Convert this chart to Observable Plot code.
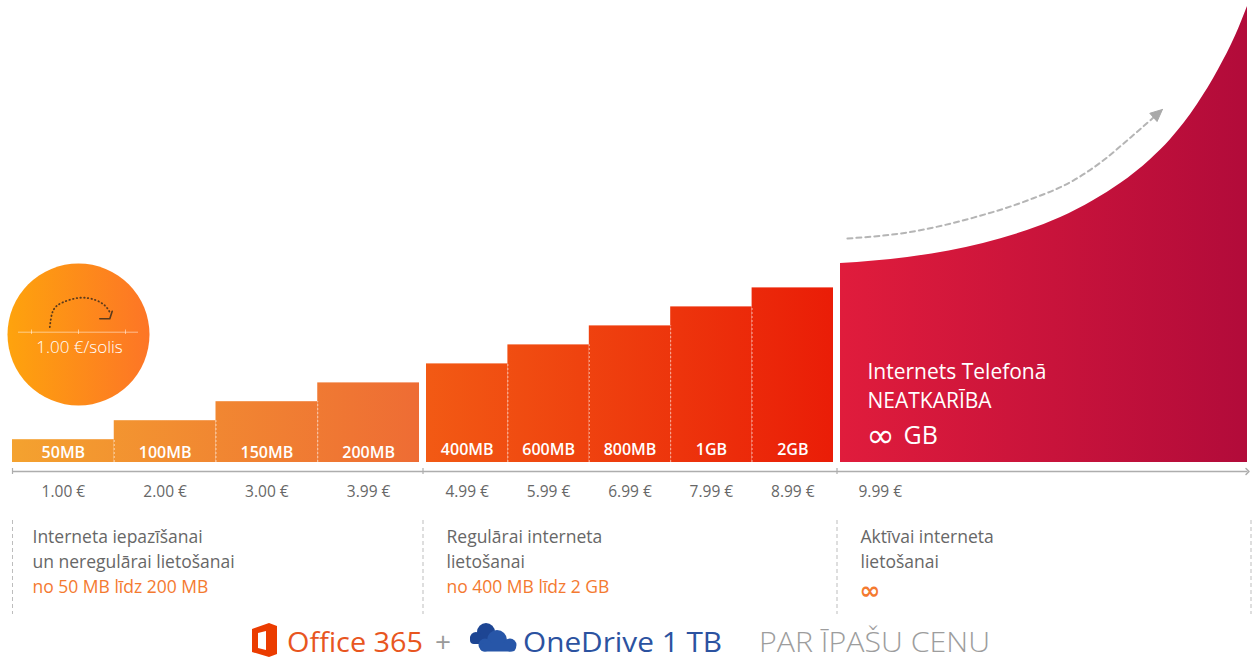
<!DOCTYPE html>
<html><head><meta charset="utf-8">
<script src="https://cdn.jsdelivr.net/npm/d3@7"></script>
<script src="https://cdn.jsdelivr.net/npm/@observablehq/plot@0.6"></script>
<style>
body{margin:0;background:#fff;width:1253px;height:659px;overflow:hidden;position:relative}
#chart{position:absolute;left:0;top:0}
#footer{position:absolute;left:0;top:618px;overflow:visible}
</style></head><body>
<div id="chart"></div>
<svg id="footer" width="1253" height="41" font-family="'Open Sans', sans-serif">
  <g transform="translate(252,5)">
    <path d="M0,6 L17,0 L25,3 L25,31 L17,34 L0,29 Z M6,10 L14,8 L14,27 L6,25 Z" fill="#eb3c00" fill-rule="evenodd"/>
  </g>
  <text x="287" y="34" font-size="28" fill="#e8561f" textLength="136" lengthAdjust="spacingAndGlyphs">Office 365</text>
  <text x="435" y="34" font-size="28" fill="#9a9a9a">+</text>
  <g transform="translate(464,2)">
    <g fill="#1d4593">
      <circle cx="22" cy="12" r="9"/><circle cx="12" cy="18" r="6"/><rect x="6" y="15" width="26" height="9" rx="4"/>
    </g>
    <g fill="#2756a8">
      <circle cx="33" cy="20" r="10"/><circle cx="21" cy="25" r="6.5"/><circle cx="46" cy="25" r="6.5"/><rect x="16" y="23" width="36" height="8.5" rx="4.2"/>
    </g>
  </g>
  <text x="523" y="34" font-size="28" fill="#2b52a0" textLength="199" lengthAdjust="spacingAndGlyphs">OneDrive 1 TB</text>
  <text x="759" y="34" font-size="28" font-weight="300" fill="#9d9d9d" textLength="231" lengthAdjust="spacingAndGlyphs">PAR ĪPAŠU CENU</text>
</svg>
<script>
// ---- data ----
const plans = ["50MB","100MB","150MB","200MB","400MB","600MB","800MB","1GB","2GB"];
const prices = [1.00, 2.00, 3.00, 3.99, 4.99, 5.99, 6.99, 7.99, 8.99];
const planGroup = [0, 0, 0, 0, 1, 1, 1, 1, 1];
const unlimitedPrice = 9.99;
const unlimitedTitle = ["Internets Telefonā", "NEATKARĪBA"];
const unlimitedAmount = "∞ GB";
// rising "unlimited" area (t = share of the panel width, v = height in price units)
const curveT = [0, 0.165, 0.351, 0.459, 0.541, 0.622, 0.688, 0.762, 0.811, 0.877, 0.929, 0.971, 1.0];
const curveV = [10.27, 10.59, 11.33, 12.01, 12.69, 13.59, 14.48, 15.75, 16.80, 18.64, 20.48, 22.27, 23.80];
// dashed trend arrow
const trendT = [0.017, 0.165, 0.327, 0.459, 0.572, 0.639, 0.713, 0.791];
const trendV = [11.59, 11.91, 12.69, 13.59, 14.64, 15.59, 16.91, 18.38];
const groupTitles = [
  ["Interneta iepazīšanai", "un neregulārai lietošanai"],
  ["Regulārai interneta", "lietošanai"],
  ["Aktīvai interneta", "lietošanai"]
];
const groupRanges = ["no 50 MB līdz 200 MB", "no 400 MB līdz 2 GB", "∞"];
const stepLabel = "1.00 €/solis";

// ---- layout ----
const floor = -0.2;          // baseline of the bars in price units
const pxUnit = 19;           // pixels per price unit
const pitch = 414;           // pixels per panel
const groupW = 407 / pitch;  // panel width as share of pitch
const gh = (1 - groupW) / 2;
const px = p => p / pxUnit;  // pixel offset -> price units
const pxX = p => p / pitch;  // pixel offset -> panel units

const bars = plans.map((name, i) => {
  const g = planGroup[i];
  const members = planGroup.map((gg, j) => gg === g ? j : -1).filter(j => j >= 0);
  const k = members.indexOf(i), n = members.length;
  return {name, price: prices[i], g,
    x1: g + k * groupW / n, x2: g + (k + 1) * groupW / n,
    prev: k > 0 ? prices[i - 1] : null};
});
const mid = d => (d.x1 + d.x2) / 2;
const curve = curveT.map((t, i) => ({x: 2 + t * groupW, v: curveV[i]}));
const trend = trendT.map((t, i) => ({x: 2 + t * groupW, v: trendV[i]}));

// arrowhead for the trend line (filled triangle, built in pixel space)
const head = (() => {
  const a = trend[trend.length - 2], b = trend[trend.length - 1];
  let dx = (b.x - a.x) * pitch, dy = (b.v - a.v) * pxUnit; // dy upward
  const len = Math.hypot(dx, dy); dx /= len; dy /= len;
  const L = 12, Wd = 5.5;
  const bx = -dx * L, by = -dy * L;
  const pts = [[0, 0], [bx - dy * Wd, by + dx * Wd], [bx + dy * Wd, by - dx * Wd], [0, 0]];
  return pts.map(([ox, oy]) => ({x: b.x + ox / pitch, v: b.v + oy / pxUnit}));
})();

// step badge geometry (relative to circle center)
const cX = pxX(66), cY = floor + px(462 - 334);
const arc = [[-28.7,7.3],[-25.3,24],[-15.3,32.3],[1.3,36.7],[16.3,34.7],[26.3,29],[31.3,22.3]]
  .map(([dx, dy]) => ({x: cX + pxX(dx), v: cY + px(dy)}));
const hook = [[21.3,15.7],[31.3,15.7],[33.7,23.3]].map(([dx, dy]) => ({x: cX + pxX(dx), v: cY + px(dy)}));

const font = "'Open Sans', sans-serif";
const gray = "#676767", orange = "#f47a30";
const [infSym, infUnit] = unlimitedAmount.split(" ");

const marks = [
  // badge
  Plot.dot([stepLabel], {x: cX, y: cY, r: 71, fill: "url(#circ)"}),
  Plot.ruleY([cY + px(2.3)], {x1: cX - pxX(60), x2: cX + pxX(60), stroke: "white", strokeOpacity: 0.5}),
  Plot.ruleX([cX - pxX(47), cX, cX + pxX(47)], {y1: cY + px(0), y2: cY + px(4.5), stroke: "white", strokeOpacity: 0.5}),
  Plot.line(arc, {x: "x", y: "v", curve: "natural", stroke: "#5a3a1c", strokeWidth: 1.8, strokeDasharray: "0.5,3.2", strokeLinecap: "round"}),
  Plot.line(hook, {x: "x", y: "v", stroke: "#5a3a1c", strokeWidth: 1.6}),
  Plot.text([stepLabel], {x: cX + pxX(1), y: cY - px(13.5), text: d => d, fill: "white", fontSize: 17, fontWeight: 300}),

  // bars
  Plot.rect(bars.filter(d => d.g === 0), {x1: "x1", x2: "x2", y1: floor, y2: "price", fill: "url(#gA)"}),
  Plot.rect(bars.filter(d => d.g === 1), {x1: "x1", x2: "x2", y1: floor, y2: "price", fill: "url(#gB)"}),
  Plot.areaY(curve, {x: "x", y1: floor, y2: "v", curve: "monotone-x", fill: "url(#gC)"}),
  Plot.ruleX(bars.filter(d => d.prev != null), {x: "x1", y1: floor, y2: "prev", stroke: "white", strokeOpacity: 0.55, strokeDasharray: "2,2"}),
  Plot.text(bars.filter(d => d.g === 0), {x: mid, y: floor, dy: -10, text: "name", fill: "white", fontSize: 16, fontWeight: 600}),
  Plot.text(bars.filter(d => d.g === 1), {x: mid, y: floor, dy: -13, text: "name", fill: "white", fontSize: 16, fontWeight: 600}),

  // trend arrow
  Plot.line(trend, {x: "x", y: "v", curve: "monotone-x", stroke: "#b5b5b5", strokeWidth: 2, strokeDasharray: "5,4"}),
  Plot.line(head, {x: "x", y: "v", fill: "#a9a9a9", stroke: "#a9a9a9", strokeWidth: 1}),

  // unlimited text
  ...unlimitedTitle.map((s, i) => Plot.text([s], {x: 2, dx: 27, y: floor, dy: -90 + 29 * i, text: d => d, textAnchor: "start", fill: "white", fontSize: 21, fontWeight: 500, letterSpacing: 0.3})),
  Plot.text([infSym], {x: 2, dx: 26, y: floor, dy: -26, text: d => d, textAnchor: "start", fill: "white", fontSize: 34, fontFamily: "DejaVu Sans"}),
  Plot.text([infUnit], {x: 2, dx: 63, y: floor, dy: -27, text: d => d, textAnchor: "start", fill: "white", fontSize: 25, fontWeight: 500}),

  // price axis
  Plot.link([0], {x1: 0, x2: 2 + groupW, y1: floor, y2: floor, dy: 9, stroke: "#adadad", strokeWidth: 1.5, markerEnd: "arrow"}),
  Plot.ruleX([0, 1 - gh, 2 - gh], {y1: floor - px(3), y2: floor + px(3), dy: 9, stroke: "#adadad", strokeWidth: 1.2}),
  Plot.text(bars, {x: mid, y: floor, dy: 30, text: d => d.price.toFixed(2) + " €", fill: gray, fontSize: 15.5, letterSpacing: -0.3}),
  Plot.text([unlimitedPrice], {x: 2, dx: 18, y: floor, dy: 30, text: d => d.toFixed(2) + " €", textAnchor: "start", fill: gray, fontSize: 15.5, letterSpacing: -0.3}),

  // segment descriptions
  Plot.ruleX([0, 1 - gh, 2 - gh, 3 - gh], {y1: floor - px(58), y2: floor - px(152), stroke: "#bdbdbd", strokeDasharray: "4,3"}),
  ...[0, 1].map(line => Plot.text(groupTitles.map((t, g) => ({g, s: t[line]})), {x: "g", dx: 20, y: floor, dy: 75 + 25 * line, text: "s", textAnchor: "start", fill: gray, fontSize: 17.5})),
  Plot.text(groupRanges.map((s, g) => ({g, s})).filter(d => d.s !== "∞"), {x: "g", dx: 20, y: floor, dy: 125, text: "s", textAnchor: "start", fill: orange, fontSize: 17.5, fontWeight: 500}),
  Plot.text(groupRanges.map((s, g) => ({g, s})).filter(d => d.s === "∞"), {x: "g", dx: 19, y: floor, dy: 128, text: "s", textAnchor: "start", fill: orange, fontSize: 25, fontWeight: 700, fontFamily: "DejaVu Sans"})
];

const chart = Plot.plot({
  width: 1253, height: 618, margin: 0,
  x: {domain: [0, 3], range: [12, 12 + 3 * pitch], axis: null},
  y: {domain: [floor, floor + 462 / pxUnit], range: [462, 0], axis: null},
  style: {fontFamily: font, background: "white", overflow: "visible"},
  marks
});
document.getElementById("chart").appendChild(chart);

// gradients
const xs = chart.scale("x");
const defs = d3.select(chart).insert("defs", ":first-child");
function grad(id, c0, c1, x1, x2) {
  const g = defs.append("linearGradient").attr("id", id);
  if (x1 != null) g.attr("gradientUnits", "userSpaceOnUse").attr("x1", x1).attr("x2", x2).attr("y1", 0).attr("y2", 0);
  g.append("stop").attr("offset", 0).attr("stop-color", c0);
  g.append("stop").attr("offset", 1).attr("stop-color", c1);
}
grad("circ", "#fea30d", "#fd7526");
grad("gA", "#f4a22f", "#ee6c34", xs.apply(0), xs.apply(groupW));
grad("gB", "#f25a14", "#ea1d07", xs.apply(1), xs.apply(1 + groupW));
grad("gC", "#e01c3c", "#b20b3a", xs.apply(2), xs.apply(2 + groupW));
</script>
</body></html>
